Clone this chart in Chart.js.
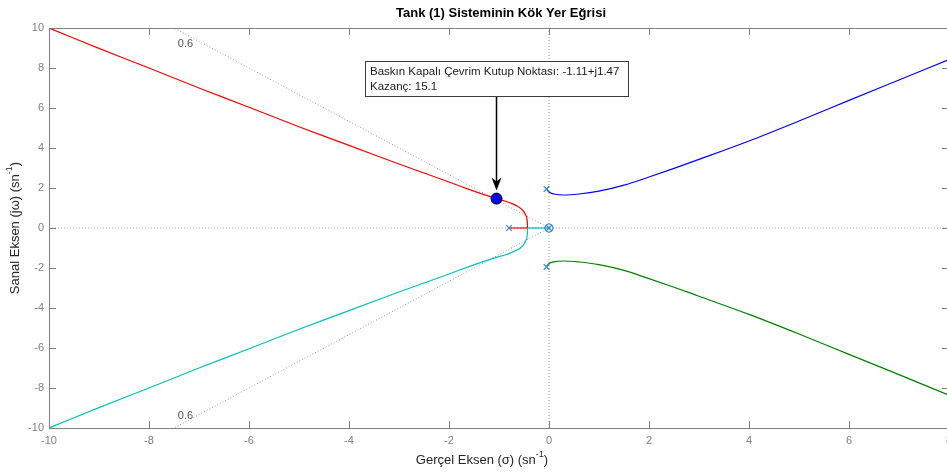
<!DOCTYPE html>
<html>
<head>
<meta charset="utf-8">
<title>Tank (1) Sisteminin Kök Yer Eğrisi</title>
<script src="https://cdn.jsdelivr.net/npm/chart.js@4.4.1/dist/chart.umd.min.js"></script>
<style>
    html, body { margin: 0; padding: 0; background: #fff; overflow: hidden; }
    #wrap { width: 960px; height: 472px; position: relative; }
</style>
</head>
<body>
<div id="wrap"><canvas id="rlocusChart"></canvas></div>
<script>
// kök yer eğrisi dalları (gerçel kısım, sanal kısım)
const redX   = [-0.43, -0.432, -0.445, -0.475, -0.53, -0.62, -0.75, -0.9, -1.05, -1.3, -1.6, -2, -3, -4, -5, -6, -7, -8, -9, -10];
const redY   = [0, 0.25, 0.5, 0.7, 0.9, 1.08, 1.23, 1.36, 1.47, 1.67, 1.93, 2.3, 3.2, 4.13, 5.06, 6.04, 7.0, 8.0, 8.98, 10];
const cyanX  = [-0.43, -0.432, -0.445, -0.475, -0.53, -0.62, -0.75, -0.9, -1.05, -1.3, -1.6, -2, -3, -4, -5, -6, -7, -8, -9, -10];
const cyanY  = [0, -0.25, -0.5, -0.7, -0.9, -1.08, -1.23, -1.36, -1.47, -1.67, -1.93, -2.3, -3.2, -4.13, -5.06, -6.04, -7.0, -8.0, -8.98, -10];
const blueX  = [-0.05, 0.0, 0.1, 0.3, 0.6, 1.0, 1.5, 2, 2.5, 3, 4, 5, 6, 7, 8];
const blueY  = [1.95, 1.8, 1.7, 1.65, 1.7, 1.84, 2.14, 2.55, 2.98, 3.43, 4.35, 5.35, 6.38, 7.4, 8.42];
const greenX = [-0.05, 0.0, 0.1, 0.3, 0.6, 1.0, 1.5, 2, 2.5, 3, 4, 5, 6, 7, 8];
const greenY = [-1.92, -1.78, -1.69, -1.65, -1.7, -1.83, -2.12, -2.53, -2.96, -3.41, -4.32, -5.3, -6.32, -7.33, -8.36];
// gerçel eksen üzerindeki parçalar
const redRealX  = [-0.8, -0.43];
const cyanRealX = [0, -0.43];

// kutuplar ve sıfır
const poleX = [0, -0.8, -0.05, -0.05];
const poleY = [0, 0, 1.95, -1.95];
const zeroX = [0];
const zeroY = [0];

// sönüm oranı çizgisi (zeta = 0.6)
const zetaLabel = '0.6';
const zetaLineX = [0, -7.5];
const zetaLineY = [10, -10];
const zetaTextX = [-7.27, -7.27];
const zetaTextY = [9.2, -9.4];

// seçilen baskın kutup
const domX = [-1.05];
const domY = [1.47];
const domText = ['Baskın Kapalı Çevrim Kutup Noktası: -1.11+j1.47', 'Kazanç: 15.1'];

const xTicks = [-10, -8, -6, -4, -2, 0, 2, 4, 6, 8];
const yTicks = [-10, -8, -6, -4, -2, 0, 2, 4, 6, 8, 10];

const FONT = '"Liberation Sans", Arial, sans-serif';

function pts(xs, ys) {
    return xs.map((v, i) => ({ x: v, y: ys[i] }));
}

// metin + üst simge
function drawSupText(ctx, before, sup, after, size) {
    ctx.font = size + 'px ' + FONT;
    const w1 = ctx.measureText(before).width;
    const w3 = ctx.measureText(after).width;
    ctx.font = Math.round(size * 0.7) + 'px ' + FONT;
    const w2 = ctx.measureText(sup).width;
    const total = w1 + w2 + w3;
    let cx = -total / 2;
    ctx.textAlign = 'left';
    ctx.textBaseline = 'middle';
    ctx.font = size + 'px ' + FONT;
    ctx.fillText(before, cx, 0);
    cx += w1;
    ctx.font = Math.round(size * 0.7) + 'px ' + FONT;
    ctx.fillText(sup, cx, -size * 0.4);
    cx += w2;
    ctx.font = size + 'px ' + FONT;
    ctx.fillText(after, cx, 0);
}

const decor = {
    id: 'decor',
    afterDatasetsDraw(chart) {
        const ctx = chart.ctx;
        const a = chart.chartArea;
        const x = chart.scales.x, y = chart.scales.y;
        ctx.save();

        // eksen kutusu ve içe dönük çentikler
        ctx.strokeStyle = '#808080';
        ctx.lineWidth = 1;
        ctx.strokeRect(Math.round(a.left) + 0.5, Math.round(a.top) + 0.5,
                       Math.round(a.right - a.left), Math.round(a.bottom - a.top));
        ctx.beginPath();
        xTicks.forEach(v => {
            const px = Math.round(x.getPixelForValue(v)) + 0.5;
            ctx.moveTo(px, a.bottom); ctx.lineTo(px, a.bottom - 7);
            ctx.moveTo(px, a.top); ctx.lineTo(px, a.top + 7);
        });
        yTicks.forEach(v => {
            const py = Math.round(y.getPixelForValue(v)) + 0.5;
            ctx.moveTo(a.left, py); ctx.lineTo(a.left + 7, py);
            ctx.moveTo(a.right, py); ctx.lineTo(a.right - 7, py);
        });
        ctx.stroke();

        // zeta etiketleri
        ctx.fillStyle = '#505050';
        ctx.font = '11px ' + FONT;
        ctx.textAlign = 'center';
        ctx.textBaseline = 'middle';
        zetaTextX.forEach((v, i) => {
            ctx.fillText(zetaLabel, x.getPixelForValue(v), y.getPixelForValue(zetaTextY[i]));
        });

        // başlık
        ctx.fillStyle = '#000';
        ctx.font = 'bold 13px ' + FONT;
        ctx.fillText('Tank (1) Sisteminin Kök Yer Eğrisi', (a.left + a.right) / 2 + 2, 13);

        // eksen başlıkları
        ctx.fillStyle = '#262626';
        ctx.save();
        ctx.translate(482, 460);
        drawSupText(ctx, 'Gerçel Eksen (σ) (sn', '-1', ')', 13);
        ctx.restore();
        ctx.save();
        ctx.translate(15, (a.top + a.bottom) / 2);
        ctx.rotate(-Math.PI / 2);
        drawSupText(ctx, 'Sanal Eksen (jω) (sn', '-1', ')', 13);
        ctx.restore();

        // açıklama kutusu ve ok
        const dx = Math.round(x.getPixelForValue(domX[0])) + 0.5;
        const dy = y.getPixelForValue(domY[0]);
        const bx = 365, by = 61, bw = 263, bh = 35;
        ctx.fillStyle = '#fff';
        ctx.fillRect(bx, by, bw, bh);
        ctx.strokeStyle = '#3c3c3c';
        ctx.lineWidth = 1;
        ctx.strokeRect(bx + 0.5, by + 0.5, bw, bh);
        ctx.fillStyle = '#1a1a1a';
        ctx.font = '11.5px ' + FONT;
        ctx.textAlign = 'left';
        ctx.textBaseline = 'middle';
        ctx.fillText(domText[0], bx + 5, by + 11);
        ctx.fillText(domText[1], bx + 5, by + 26);

        const tipY = dy - 8;
        ctx.strokeStyle = '#000';
        ctx.lineWidth = 1.5;
        ctx.beginPath();
        ctx.moveTo(dx, by + bh + 1);
        ctx.lineTo(dx, tipY - 6);
        ctx.stroke();
        ctx.fillStyle = '#000';
        ctx.beginPath();
        ctx.moveTo(dx, tipY);
        ctx.lineTo(dx - 5, tipY - 13);
        ctx.lineTo(dx, tipY - 9);
        ctx.lineTo(dx + 5, tipY - 13);
        ctx.closePath();
        ctx.fill();

        ctx.restore();
    }
};

const refLine = { borderColor: '#9a9a9a', borderWidth: 1, borderDash: [1, 2], pointRadius: 0, showLine: true, order: 3 };
const branch = { borderWidth: 1.2, pointRadius: 0, showLine: true, tension: 0.3, order: 2 };

const ctx = document.getElementById('rlocusChart').getContext('2d');
const rlocusChart = new Chart(ctx, {
    type: 'scatter',
    data: {
        datasets: [
            Object.assign({ data: pts([-10, 8], [0, 0]) }, refLine),
            Object.assign({ data: pts([0, 0], [-10, 10]) }, refLine),
            Object.assign({ data: pts(zetaLineX, [0, zetaLineY[0]]) }, refLine),
            Object.assign({ data: pts(zetaLineX, [0, zetaLineY[1]]) }, refLine),
            Object.assign({ data: pts(redX, redY), borderColor: '#ff0000' }, branch),
            Object.assign({ data: pts(cyanX, cyanY), borderColor: '#00bfbf' }, branch),
            Object.assign({ data: pts(blueX, blueY), borderColor: '#0000ff' }, branch, { cubicInterpolationMode: 'monotone' }),
            Object.assign({ data: pts(greenX, greenY), borderColor: '#008000' }, branch, { cubicInterpolationMode: 'monotone' }),
            Object.assign({ data: pts(redRealX, [0, 0]), borderColor: '#ff0000' }, branch, { tension: 0 }),
            Object.assign({ data: pts(cyanRealX, [0, 0]), borderColor: '#00bfbf' }, branch, { tension: 0 }),
            {
                data: pts(poleX, poleY), showLine: false, pointStyle: 'crossRot',
                pointRadius: 4, borderColor: '#2f80c8', borderWidth: 1.2, order: 1
            },
            {
                data: pts(zeroX, zeroY), showLine: false, pointStyle: 'circle',
                pointRadius: 4, borderColor: '#2f80c8', backgroundColor: 'rgba(0,0,0,0)', borderWidth: 1.2, order: 1
            },
            {
                data: pts(domX, domY), showLine: false, pointStyle: 'circle',
                pointRadius: 5.5, borderColor: '#000', backgroundColor: '#0000ff', borderWidth: 1, order: 0
            }
        ]
    },
    options: {
        responsive: true,
        maintainAspectRatio: false,
        animation: false,
        layout: { padding: { top: 28, right: 11, left: 0, bottom: 0 } },
        plugins: { legend: { display: false }, tooltip: { enabled: false }, title: { display: false } },
        scales: {
            x: {
                type: 'linear', min: -10, max: 8,
                afterFit: s => { s.height = 44; },
                grid: { display: false, drawTicks: false },
                border: { display: false },
                ticks: {
                    stepSize: 2, padding: 6, maxRotation: 0, autoSkip: false,
                    color: '#808080', font: { family: FONT, size: 11 }
                }
            },
            y: {
                type: 'linear', min: -10, max: 10,
                afterFit: s => { s.width = 49; },
                grid: { display: false, drawTicks: false },
                border: { display: false },
                ticks: {
                    stepSize: 2, padding: 5,
                    color: '#808080', font: { family: FONT, size: 11 }
                }
            }
        }
    },
    plugins: [decor]
});
</script>
</body>
</html>
